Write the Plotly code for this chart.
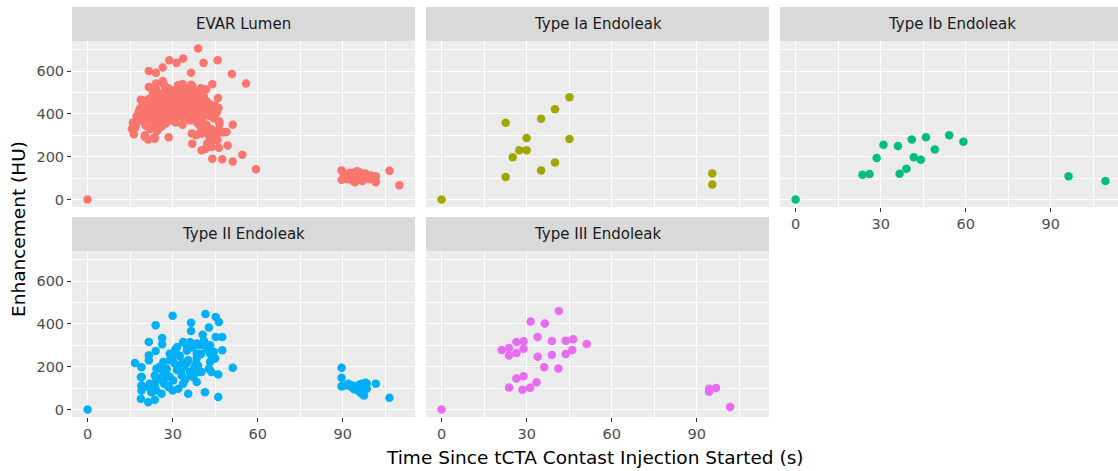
import plotly.graph_objects as go

# ---------------- data ----------------
panel_names = ["EVAR Lumen", "Type Ia Endoleak", "Type Ib Endoleak",
               "Type II Endoleak", "Type III Endoleak"]
panel_colors = ["#F8766D", "#A3A500", "#00BF7D", "#00B0F6", "#E76BF3"]

x_ticks = [0, 30, 60, 90]
y_ticks = [0, 200, 400, 600]

evar_time = [
    0,
    16.3, 16.7, 17.8, 18.8, 19.1, 19.6, 20.2, 20.2, 21.4, 21.6, 21.6, 23.6, 23.7,
    24.1, 24.1, 24.1, 26.5, 26.5, 28.6, 28.8, 31.4, 31.9, 33.7, 36.5, 36.5, 36.9,
    39.0, 40.2, 40.9, 41.5, 41.8, 42.6, 39.3, 43.8, 44.0, 44.0, 45.0, 45.8, 45.9,
    46.0, 46.2, 46.3, 46.4, 46.4, 46.5, 46.7, 47.5, 47.9, 49.0, 49.4, 50.9, 51.2,
    51.2, 54.6, 55.9, 59.4,
    15.6, 16.0, 17.0, 17.3, 18.5, 19.1, 18.0,
    18.5, 19.0, 19.5, 20.0, 20.5, 21.0, 21.0, 21.5, 22.0, 22.0, 22.5, 22.5, 23.0,
    23.0, 23.5, 23.5, 24.0, 24.0, 24.5, 24.5, 25.0, 25.0, 25.5, 25.5, 26.0, 26.0,
    26.5, 26.5, 27.0, 27.0, 27.5, 27.5, 28.0, 28.0, 28.5, 28.5, 29.0, 29.0, 29.5,
    29.5, 30.0, 30.0, 30.0, 30.5, 30.5, 31.0, 31.0, 31.5, 31.5, 32.0, 32.0, 32.5,
    32.5, 33.0, 33.0, 33.5, 33.5, 34.0, 34.0, 34.5, 34.5, 35.0, 35.0, 35.5, 35.5,
    36.0, 36.0, 36.5, 36.5, 37.0, 37.0, 37.5, 37.5, 38.0, 38.0, 38.5, 38.5, 39.0,
    39.0, 39.5, 39.5, 40.0, 40.0, 40.5, 40.5, 41.0, 41.0, 41.5, 42.0, 42.0, 42.5,
    43.0, 43.0, 43.5, 44.0, 44.0, 44.5, 45.0, 45.0, 45.5,
    20.8, 22.8, 24.8, 26.8, 28.8, 30.8, 32.8, 34.8, 36.8, 38.8, 40.8, 42.8,
    21.8, 23.8, 25.8, 27.8, 29.8, 31.8, 33.8, 35.8, 37.8, 39.8, 41.8,
    22.3, 25.3, 28.3, 31.3, 34.3, 37.3, 40.3, 43.3,
    27.0, 33.5, 37.0, 40.0,
    36.8, 38.2, 40.2, 44.4, 47.2, 44.0, 41.0, 43.0, 39.6, 42.2, 45.4, 37.8,
    89.6, 89.6, 90.5, 91.0, 92.0, 92.5, 93.0, 93.5, 94.3, 94.5, 95.0, 95.5, 95.9,
    96.0, 96.5, 97.0, 97.3, 97.8, 98.0, 98.5, 99.0, 99.5, 100.0, 100.5, 101.7,
    101.7, 106.5, 110.0, 91.5, 94.0, 96.8, 93.0,
]
evar_hu = [
    0,
    305, 334, 370, 467, 433, 436, 292, 300, 281, 601, 526, 291, 284,
    593, 542, 518, 617, 554, 291, 651, 639, 534, 659, 593, 537, 261,
    706, 230, 639, 236, 514, 308, 308, 245, 539, 191, 300, 277, 651,
    475, 428, 242, 366, 327, 355, 316, 188, 314, 316, 253, 587, 350,
    178, 209, 542, 141,
    330, 360, 345, 390, 425, 464, 410,
    400, 380, 415, 360, 345, 395, 440, 470, 330, 375, 410, 455, 395,
    500, 350, 430, 470, 385, 320, 410, 445, 360, 490, 400, 425, 340,
    465, 380, 505, 410, 440, 355, 475, 395, 520, 430, 460, 370, 410,
    495, 440, 385, 510, 470, 405, 450, 360, 500, 420, 475, 390, 440,
    505, 460, 400, 490, 350, 430, 500, 465, 395, 445, 515, 480, 415,
    455, 370, 500, 430, 470, 395, 505, 445, 480, 405, 455, 360, 500,
    425, 470, 390, 445, 500, 410, 370, 480, 440, 400, 460, 350, 430,
    390, 445, 330, 420, 300, 380, 440, 320, 405,
    420, 440, 435, 410, 420, 435, 415, 420, 440, 425, 435, 410,
    385, 410, 400, 385, 420, 440, 380, 395, 420, 400, 425,
    375, 405, 395, 415, 420, 380, 430, 410,
    535, 540, 530, 520,
    308, 300, 308, 323, 316, 276, 330, 290, 345, 262, 295, 380,
    136, 92, 118, 105, 112, 125, 98, 88, 81, 115, 132, 105, 128,
    95, 118, 86, 112, 100, 122, 108, 105, 95, 112, 100, 108,
    81, 134, 67, 95, 125, 108, 110,
]

ia_time = [0, 22.6, 22.6, 25.1, 27.4, 30.0, 30.0, 35.1, 35.1, 40.0, 40.0,
           45.1, 45.1, 95.5, 95.5]
ia_hu = [0, 359, 105, 198, 230, 230, 287, 378, 136, 422, 173, 478, 283,
         122, 70]

ib_time = [0, 23.6, 26.1, 28.6, 31.0, 36.1, 36.7, 39.1, 41.0, 41.7, 44.2,
           46.0, 49.1, 54.2, 59.2, 96.3, 109.3]
ib_hu = [0, 116, 119, 194, 256, 250, 120, 144, 280, 197, 186, 291, 234,
         300, 270, 109, 86]

ii_time = [
    0,
    30.0, 41.6, 45.2, 46.3, 36.5, 24.0, 42.8, 36.5, 40.6, 45.2, 47.5, 26.3,
    21.6, 26.3, 33.7, 36.1, 38.5, 41.2, 43.2, 47.5, 31.6, 34.9, 24.0, 21.6,
    21.6, 29.0, 29.0, 32.3, 38.5, 43.2, 45.0, 26.7, 16.7, 19.0, 24.3, 30.8,
    34.9, 38.5, 39.0, 43.2, 27.9, 32.6, 36.1, 42.8, 51.2, 18.8, 23.7, 26.7,
    29.0, 33.2, 37.3, 40.2, 43.7, 46.1, 19.0, 24.3, 26.7, 30.2, 33.7, 38.5,
    23.7, 28.5, 32.0, 21.4, 24.3, 19.0, 30.0, 35.5, 41.4, 26.1, 18.8, 21.4,
    23.7, 46.1, 21.9, 19.1, 19.1,
    31.0, 32.5, 34.0, 35.0, 37.0, 39.5, 41.0, 42.0, 44.0, 33.0, 35.5, 38.0,
    40.0, 28.0, 31.5, 27.0, 25.0, 22.5, 36.5, 34.5, 30.5, 39.0, 44.5, 25.5,
    33.5, 37.5, 28.5, 42.5,
    89.6, 89.6, 89.6, 91.0, 92.0, 93.0, 93.5, 94.4, 95.0, 95.5, 95.8, 96.2,
    96.7, 96.7, 97.0, 97.3, 97.8, 98.0, 98.5, 98.5, 97.5, 96.0, 94.0, 101.7,
    106.5,
]
ii_hu = [
    0,
    438, 447, 433, 409, 406, 394, 383, 367, 350, 339, 339, 334,
    316, 305, 316, 316, 308, 316, 300, 277, 292, 300, 273, 253,
    230, 261, 230, 253, 261, 261, 238, 222, 217, 198, 191, 214,
    214, 238, 206, 222, 191, 191, 175, 191, 195, 152, 159, 175,
    152, 159, 152, 175, 175, 164, 112, 136, 136, 136, 120, 128,
    112, 105, 97, 105, 89, 89, 89, 73, 81, 73, 50, 34,
    45, 58, 120, 152, 111,
    280, 250, 200, 275, 290, 300, 320, 280, 240, 180, 230, 210,
    260, 160, 185, 120, 145, 80, 160, 140, 250, 175, 270, 200,
    220, 190, 110, 300,
    195, 148, 108, 112, 120, 105, 112, 105, 98, 88, 115, 80,
    120, 73, 100, 92, 110, 125, 120, 97, 65, 103, 95, 120,
    55,
]

iii_time = [0, 21.2, 23.8, 23.8, 26.4, 26.4, 28.9, 28.9, 26.4, 28.9, 23.8,
            28.5, 31.2, 33.5, 31.4, 36.4, 41.4, 33.9, 33.9, 36.2, 38.9, 38.9,
            41.2, 43.8, 43.8, 46.4, 46.1, 51.2, 94.4, 94.4, 96.8, 101.8]
iii_hu = [0, 278, 287, 253, 316, 264, 319, 284, 145, 155, 103, 92, 102, 127,
          411, 402, 461, 339, 247, 198, 320, 255, 192, 322, 259, 328, 278,
          306, 97, 83, 100, 12]

series_time = [evar_time, ia_time, ib_time, ii_time, iii_time]
series_hu = [evar_hu, ia_hu, ib_hu, ii_hu, iii_hu]

# ---------------- layout geometry ----------------
W, H = 1118, 471
col_px = [(72, 415), (426, 769), (780, 1123)]
row_px = [(41, 207), (251, 417)]          # plot area top/bottom
strip_px = [(7, 41), (217, 251)]          # strip top/bottom
cells = [(0, 0), (0, 1), (0, 2), (1, 0), (1, 1)]

all_t = [v for s in series_time for v in s]
all_h = [v for s in series_hu for v in s]
tmin, tmax = min(all_t), max(all_t)
hmin, hmax = min(all_h), max(all_h)
xr = [tmin - 0.05 * (tmax - tmin), tmax + 0.05 * (tmax - tmin)]
yr = [hmin - 0.05 * (hmax - hmin), hmax + 0.05 * (hmax - hmin)]

FONT = "DejaVu Sans, Arial, sans-serif"

fig = go.Figure()
shapes, annotations = [], []

for i, (r, c) in enumerate(cells):
    k = "" if i == 0 else str(i + 1)
    x0, x1 = col_px[c]
    y0, y1 = row_px[r]
    xrange = list(xr)
    if x1 > W:  # panel runs past the right edge of the page
        xrange[1] = xr[0] + (xr[1] - xr[0]) * (W - x0) / (x1 - x0)
        x1 = W
    fig.add_trace(go.Scatter(
        x=series_time[i], y=series_hu[i], mode="markers",
        marker=dict(color=panel_colors[i], size=8.5, line=dict(width=0)),
        xaxis="x" + k, yaxis="y" + k, showlegend=False, hoverinfo="skip",
    ))
    show_x = (r == 1) or (c == 2)
    show_y = (c == 0)
    common = dict(showgrid=True, gridcolor="white", gridwidth=1.1,
                  zeroline=False, showline=False,
                  tickfont=dict(family=FONT, size=14.5, color="#4D4D4D"),
                  tickcolor="#333333", tickwidth=1, ticklen=4)
    fig.layout["xaxis" + k] = dict(
        common, domain=[x0 / W, x1 / W], range=xrange, anchor="y" + k,
        tickvals=x_ticks, ticks="outside" if show_x else "",
        showticklabels=show_x,
        minor=dict(dtick=15, tick0=0, showgrid=True, gridcolor="white",
                   gridwidth=0.55, ticks=""),
    )
    fig.layout["yaxis" + k] = dict(
        common, domain=[1 - y1 / H, 1 - y0 / H], range=yr, anchor="x" + k,
        tickvals=y_ticks, ticks="outside" if show_y else "",
        showticklabels=show_y,
        minor=dict(dtick=100, tick0=0, showgrid=True, gridcolor="white",
                   gridwidth=0.55, ticks=""),
    )
    s0, s1 = strip_px[r]
    shapes.append(dict(type="rect", xref="paper", yref="paper",
                       x0=x0 / W, x1=x1 / W, y0=1 - s1 / H, y1=1 - s0 / H,
                       fillcolor="#D9D9D9", line=dict(width=0), layer="below"))
    cx = (col_px[c][0] + col_px[c][1]) / 2
    annotations.append(dict(text=panel_names[i], xref="paper", yref="paper",
                            x=cx / W, y=1 - (s0 + s1) / 2 / H,
                            xanchor="center", yanchor="middle", showarrow=False,
                            font=dict(family=FONT, size=15, color="#1A1A1A")))

annotations.append(dict(text="Time Since tCTA Contast Injection Started (s)",
                        xref="paper", yref="paper", x=(72 + 1118) / 2 / W,
                        y=1 - 457 / H, xanchor="center", yanchor="middle",
                        showarrow=False,
                        font=dict(family=FONT, size=18.5, color="black")))
annotations.append(dict(text="Enhancement (HU)", xref="paper", yref="paper",
                        x=18 / W, y=1 - 229 / H, xanchor="center",
                        yanchor="middle", textangle=-90, showarrow=False,
                        font=dict(family=FONT, size=18.5, color="black")))

fig.update_layout(
    width=W, height=H, margin=dict(l=0, r=0, t=0, b=0),
    paper_bgcolor="white", plot_bgcolor="#EBEBEB",
    shapes=shapes, annotations=annotations, showlegend=False,
)

fig.write_html("out.html")
